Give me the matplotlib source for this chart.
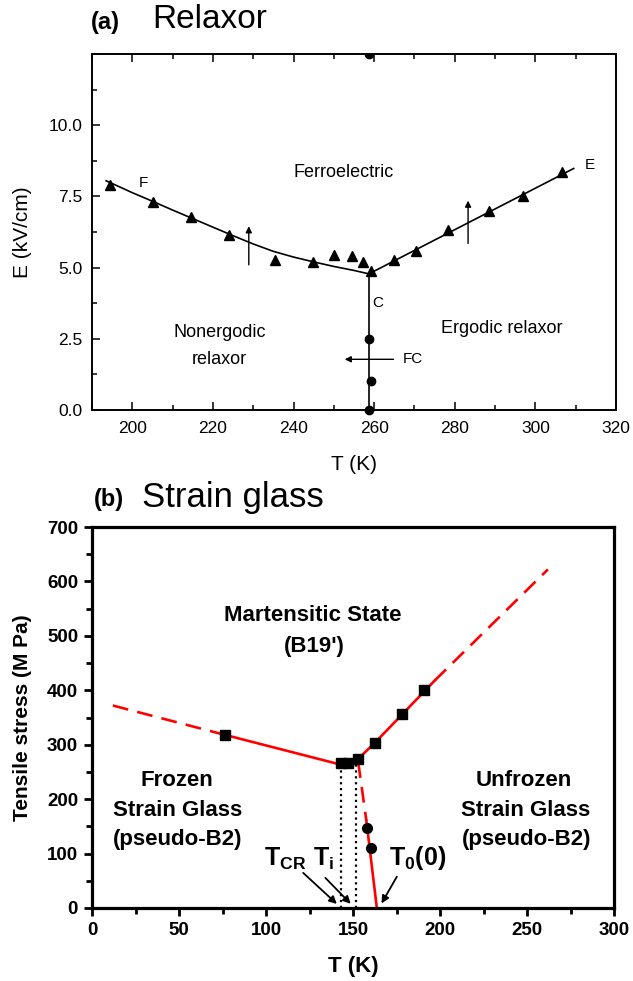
import matplotlib
matplotlib.use("Agg")
import matplotlib.pyplot as plt
import numpy as np
from matplotlib import rcParams
from matplotlib.ticker import MultipleLocator

rcParams["font.family"] = "Liberation Sans"
rcParams["mathtext.fontset"] = "custom"
rcParams["mathtext.rm"] = "Liberation Sans"
rcParams["mathtext.bf"] = "Liberation Sans:bold"

# ---- (a) Relaxor data ----
tri_T = [194.5, 205.1, 214.5, 223.9, 235.4, 244.9, 250.0, 254.5, 257.3, 259.3,
         265.0, 270.5, 278.3, 288.5, 296.9, 306.6]
tri_E = [7.91, 7.32, 6.77, 6.14, 5.27, 5.21, 5.44, 5.41, 5.20, 4.88,
         5.26, 5.60, 6.32, 6.99, 7.52, 8.35]
circ_T = [258.7, 259.2, 258.7]
circ_E = [0.0, 1.02, 2.5]
top_T = [258.7]
top_E = [12.5]
# F line (left branch) and E line (right branch)
fline_T = [193.5, 200, 205, 210, 215, 220, 225, 230, 235, 240, 245, 250, 255, 258.7]
fline_E = [8.05, 7.63, 7.33, 7.02, 6.72, 6.42, 6.12, 5.83, 5.57, 5.37, 5.20, 5.04, 4.90, 4.78]
eline_T = [258.7, 309.5]
eline_E = [4.78, 8.48]
cline_T = [258.7, 258.7]
cline_E = [0.0, 4.78]

# ---- (b) Strain glass data ----
sq_T = [76.5, 143.0, 147.4, 152.8, 162.8, 178.0, 190.7]
sq_S = [318, 266, 267, 273, 304, 357, 400]
dot_T = [157.9, 160.2]
dot_S = [147, 110]
left_solid_T = [76.5, 141, 152]
left_solid_S = [318, 265, 271]
left_dash_T = [12, 76.5]
left_dash_S = [372, 318]
right_solid_T = [152, 163, 197]
right_solid_S = [271, 305, 418]
right_dash_T = [197, 262]
right_dash_S = [418, 622]
vert_dash_T = [153, 157.7]
vert_dash_S = [268, 160]
vert_solid_T = [157.7, 163.7]
vert_solid_S = [160, 0]
dotted_T = [143, 152]
dotted_top = [264, 270]

fig = plt.figure(figsize=(6.33, 9.81), dpi=100)

# ================= panel (a) =================
ax1 = fig.add_axes([92/633, 1-410/981, 524/633, 356/981])
ax1.plot(fline_T, fline_E, 'k-', lw=1.2)
ax1.plot(eline_T, eline_E, 'k-', lw=1.2)
ax1.plot(cline_T, cline_E, 'k-', lw=1.2)
ax1.plot(tri_T, tri_E, 'k^', ms=6.5)
ax1.plot(circ_T, circ_E, 'ko', ms=6, clip_on=False)
ax1.plot(top_T, top_E, 'ko', ms=6)

arr = dict(arrowstyle='-|>', color='k', lw=1.0, mutation_scale=9)
ax1.annotate('', xy=(228.9, 6.55), xytext=(228.9, 5.0), arrowprops=arr)
ax1.annotate('', xy=(283.3, 7.45), xytext=(283.3, 5.75), arrowprops=arr)
ax1.annotate('', xy=(252.0, 1.78), xytext=(265.5, 1.78), arrowprops=arr)

ax1.text(252.5, 8.33, 'Ferroelectric', ha='center', va='center', fontsize=13)
ax1.text(221.8, 2.72, 'Nonergodic', ha='center', va='center', fontsize=13)
ax1.text(221.5, 1.78, 'relaxor', ha='center', va='center', fontsize=13)
ax1.text(291.6, 2.87, 'Ergodic relaxor', ha='center', va='center', fontsize=13)
ax1.text(202.8, 7.97, 'F', ha='center', va='center', fontsize=11)
ax1.text(313.5, 8.62, 'E', ha='center', va='center', fontsize=11)
ax1.text(261.0, 3.77, 'C', ha='center', va='center', fontsize=11)
ax1.text(267.0, 1.78, 'FC', ha='left', va='center', fontsize=11)

ax1.set_xlim(190, 320)
ax1.set_ylim(0, 12.5)
ax1.set_xticks([200, 220, 240, 260, 280, 300, 320])
ax1.set_yticks([0, 2.5, 5.0, 7.5, 10.0])
ax1.set_yticklabels(['0.0', '2.5', '5.0', '7.5', '10.0'])
ax1.xaxis.set_minor_locator(MultipleLocator(10))
ax1.yaxis.set_minor_locator(MultipleLocator(1.25))
ax1.tick_params(which='both', direction='in', top=True, right=False, labelsize=12.5, width=1.1)
ax1.tick_params(axis='x', which='major', length=6, pad=8)
ax1.tick_params(axis='y', which='major', length=6, pad=7)
ax1.tick_params(which='minor', length=3.5)
ax1.tick_params(axis='x', which='both', top=True)
for s in ax1.spines.values():
    s.set_linewidth(1.4)
ax1.set_xlabel('T (K)', fontsize=15)
ax1.set_ylabel('E (kV/cm)', fontsize=15)
ax1.xaxis.set_label_coords(0.5, -0.125)
ax1.yaxis.set_label_coords(-0.115, 0.5)
fig.text(91/633, 1-22/981, '(a)', fontsize=17, fontweight='bold', va='center', ha='left')
fig.text(152/633, 1-20/981, 'Relaxor', fontsize=24, va='center', ha='left')

# ================= panel (b) =================
ax2 = fig.add_axes([92/633, 1-908/981, 522/633, 381/981])
red = '#ff0000'
ax2.plot(left_solid_T, left_solid_S, '-', color=red, lw=1.9)
ax2.plot(right_solid_T, right_solid_S, '-', color=red, lw=1.9)
ax2.plot(vert_solid_T, vert_solid_S, '-', color=red, lw=1.9, clip_on=False)
ax2.plot(left_dash_T, left_dash_S, '--', color=red, lw=1.9, dashes=(6, 3.5))
ax2.plot(right_dash_T, right_dash_S, '--', color=red, lw=1.9, dashes=(6, 3.5))
ax2.plot(vert_dash_T, vert_dash_S, '--', color=red, lw=1.9, dashes=(6, 3.5))
for t, top in zip(dotted_T, dotted_top):
    ax2.plot([t, t], [0, top], 'k:', lw=1.6)
ax2.plot(sq_T, sq_S, 'ks', ms=7)
ax2.plot(dot_T, dot_S, 'ko', ms=7)

bf = dict(fontsize=16, fontweight='bold', ha='center', va='center')
ax2.text(127, 538, 'Martensitic State', **bf)
ax2.text(128, 480, "(B19')", **bf)
ax2.text(49, 235, 'Frozen', **bf)
ax2.text(49, 180, 'Strain Glass', **bf)
ax2.text(49, 126, '(pseudo-B2)', **bf)
ax2.text(248, 235, 'Unfrozen', **bf)
ax2.text(249, 180, 'Strain Glass', **bf)
ax2.text(250, 126, '(pseudo-B2)', **bf)

arr2 = dict(arrowstyle='-|>', color='k', lw=1.3, mutation_scale=11)
ax2.annotate('', xy=(141.9, 4), xytext=(120.2, 68), arrowprops=arr2)
ax2.annotate('', xy=(149.8, 4), xytext=(133.0, 59), arrowprops=arr2)
ax2.annotate('', xy=(165.6, 4), xytext=(176.0, 62), arrowprops=arr2)
ax2.text(99, 90, r'$\mathbf{T_{CR}}$', fontsize=18, ha='left', va='center')
ax2.text(127, 90, r'$\mathbf{T_{i}}$', fontsize=18, ha='left', va='center')
ax2.text(170.5, 92, r'$\mathbf{T_{0}(0)}$', fontsize=18, ha='left', va='center')

ax2.set_xlim(0, 300)
ax2.set_ylim(0, 700)
ax2.xaxis.set_major_locator(MultipleLocator(50))
ax2.xaxis.set_minor_locator(MultipleLocator(25))
ax2.yaxis.set_major_locator(MultipleLocator(100))
ax2.yaxis.set_minor_locator(MultipleLocator(50))
ax2.tick_params(which='both', direction='out', width=2, labelsize=13.5)
ax2.tick_params(which='major', length=6, pad=4)
ax2.tick_params(which='minor', length=4)
for lab in ax2.get_xticklabels() + ax2.get_yticklabels():
    lab.set_fontweight('bold')
for s in ax2.spines.values():
    s.set_linewidth(2.3)
ax2.set_xlabel('T (K)', fontsize=16, fontweight='bold')
ax2.set_ylabel('Tensile stress (M Pa)', fontsize=15, fontweight='bold')
ax2.xaxis.set_label_coords(0.5, -0.125)
ax2.yaxis.set_label_coords(-0.115, 0.5)
fig.text(94/633, 1-499/981, '(b)', fontsize=17, fontweight='bold', va='center', ha='left')
fig.text(142/633, 1-497/981, 'Strain glass', fontsize=25, va='center', ha='left')

fig.savefig('out.png', dpi=100)
